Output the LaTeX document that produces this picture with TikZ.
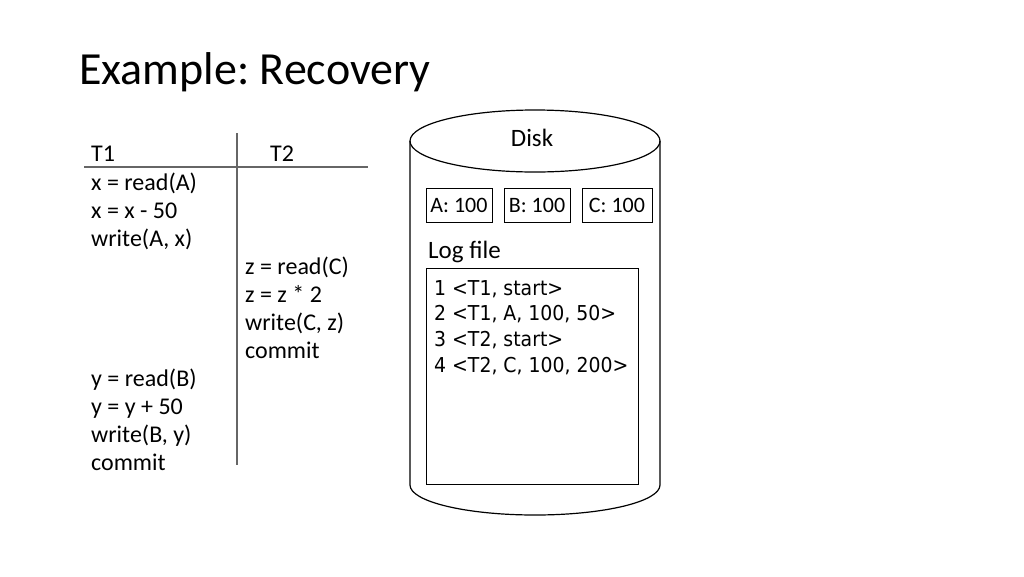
\documentclass[tikz,border=0pt]{standalone}
\usepackage{fontspec}
\setmainfont{Carlito}
\newfontfamily\logfont[FakeStretch=0.92]{DejaVu Sans}
\begin{document}
\begin{tikzpicture}[x=1pt,y=-1pt,
  txt/.style={anchor=base west,inner sep=0pt,font=\fontsize{24}{28}\selectfont},
  logtxt/.style={anchor=base west,inner sep=0pt,font=\logfont\fontsize{20.5}{24}\selectfont},
  valbox/.style={draw,line width=1pt,minimum width=66pt,minimum height=34pt,inner sep=0pt,font=\fontsize{22}{26}\selectfont},
  rule/.style={draw=gray!80!black,line width=1.3pt}]
\useasboundingbox (0,0) rectangle (1024,576);
% title
\node[anchor=base west,inner sep=0pt,font=\fontsize{46}{52}\selectfont] (title) at (79,84) {Example:~Recovery};
% schedule table
\coordinate (hl) at (84,167); \coordinate (hr) at (368,167);
\coordinate (vt) at (237,133); \coordinate (vb) at (237,465);
\draw[rule] (hl) -- (hr);
\draw[rule] (vt) -- (vb);
\node[txt] (t1) at (91,161) {T1};
\node[txt] (t2) at (270,161) {T2};
\node[txt] (a1) at (91,190) {x = read(A)};
\node[txt] (a2) at (91,218) {x = x - 50};
\node[txt] (a3) at (91,246) {write(A, x)};
\node[txt] (b1) at (245,274) {z = read(C)};
\node[txt] (b2) at (245,302) {z = z * 2};
\node[txt] (b3) at (245,330) {write(C, z)};
\node[txt] (b4) at (245,358) {commit};
\node[txt] (a4) at (91,386) {y = read(B)};
\node[txt] (a5) at (91,414) {y = y + 50};
\node[txt] (a6) at (91,442) {write(B, y)};
\node[txt] (a7) at (91,470) {commit};
% disk cylinder
\draw[line width=1.2pt] (410,141) -- (410,485) arc[start angle=180,end angle=0,x radius=125,y radius=30] -- (660,141);
\draw[line width=1.2pt] (535,141) ellipse[x radius=125,y radius=31];
\node[anchor=base,inner sep=0pt,font=\fontsize{25}{29}\selectfont] (disk) at (532,146) {Disk};
\node[valbox] (A) at (459,205) {A: 100};
\node[valbox] (B) at (537,205) {B: 100};
\node[valbox,minimum width=70pt] (C) at (617,205) {C: 100};
\node[anchor=base west,inner sep=0pt,font=\fontsize{25}{29}\selectfont] (logl) at (428,258) {Log file};
\node[draw,line width=1pt,minimum width=212pt,minimum height=216pt,inner sep=0pt] (log) at (532,376) {};
\node[logtxt] (l1) at (434,295) {1 <T1, start>};
\node[logtxt] (l2) at (434,320) {2 <T1, A, 100, 50>};
\node[logtxt] (l3) at (434,346) {3 <T2, start>};
\node[logtxt] (l4) at (434,372) {4 <T2, C, 100, 200>};
\end{tikzpicture}
\end{document}
